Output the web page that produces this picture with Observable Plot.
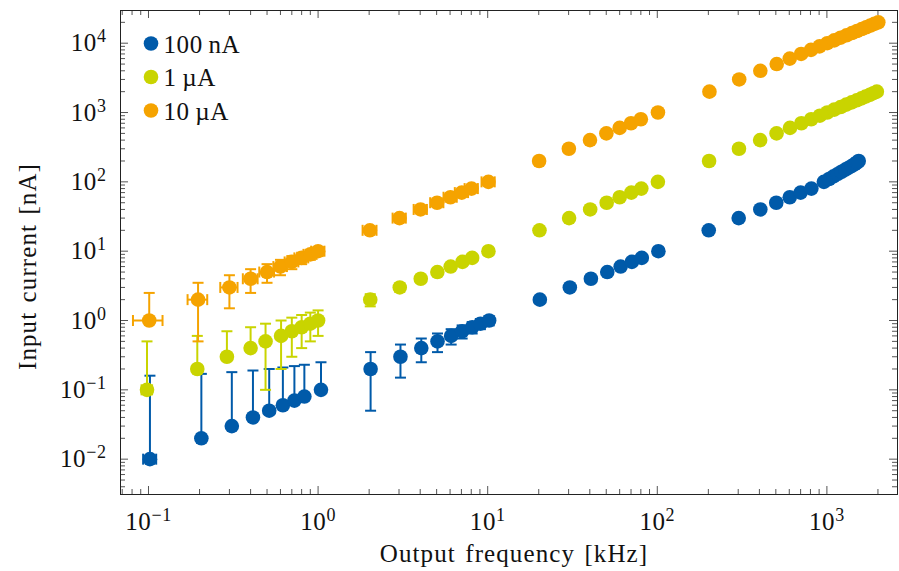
<!DOCTYPE html>
<html>
<head>
<meta charset="utf-8">
<script src="https://cdn.jsdelivr.net/npm/d3@7"></script>
<script src="https://cdn.jsdelivr.net/npm/@observablehq/plot@0.6"></script>
<style>
  html, body { margin: 0; padding: 0; background: #fff; }
  #chart svg { display: block; }
</style>
</head>
<body>
<div id="chart"></div>
<script>
// Output frequency (kHz) versus input current (nA) for three input ranges.
const seriesNames  = ["100\u2009nA", "1\u2009\u00b5A", "10\u2009\u00b5A"];
const seriesColors = ["#005AA9", "#C9D400", "#F5A300"];

// 100 nA range
const blueCurrent = [0.01, 0.02, 0.03, 0.04, 0.05, 0.06, 0.07, 0.08, 0.1,
  0.2, 0.3, 0.4, 0.5, 0.6, 0.7, 0.8, 0.9, 1,
  2, 3, 4, 5, 6, 7, 8, 10,
  20, 30, 40, 50, 60, 70, 80, 100,
  110, 120, 130, 140, 150, 160, 170, 180, 190, 200];
const blueFreq = [0.102, 0.205, 0.31, 0.413, 0.515, 0.62, 0.725, 0.83, 1.04,
  2.04, 3.06, 4.06, 5.06, 6.09, 7.07, 8.1, 9.06, 10.2,
  20.3, 30.5, 40.6, 50.7, 60.8, 70.8, 81, 101.5,
  201, 302, 405, 503, 604, 700, 810, 960,
  1030, 1095, 1160, 1220, 1285, 1345, 1405, 1460, 1505, 1540];
const blueCurrentErr = 0.15;
const blueFreqErr = [0.009, 0.011, 0.011, 0.011, 0.011, 0.011, 0.011, 0.011, 0.011];

// 1 µA range
const greenCurrent = [0.1, 0.2, 0.3, 0.4, 0.5, 0.6, 0.7, 0.8, 0.9, 1,
  2, 3, 4, 5, 6, 7, 8, 10,
  20, 30, 40, 50, 60, 70, 80, 100,
  200, 300, 400, 500, 600, 700, 800, 900,
  1000, 1100, 1200, 1300, 1400, 1500, 1600, 1700, 1800, 1900, 2000];
const greenFreq = [0.098, 0.194, 0.29, 0.4, 0.49, 0.605, 0.7, 0.8, 0.9, 1.0,
  2.03, 3.03, 4.03, 5.05, 6.05, 7.1, 8.1, 10.1,
  20.2, 30.2, 40.2, 50.3, 60, 70.3, 80.5, 100.8,
  202, 303, 404, 505, 606, 707, 808, 909,
  1005, 1105, 1205, 1300, 1400, 1500, 1600, 1690, 1790, 1880, 1970];
const greenCurrentErr = 0.4;
const greenFreqErr = [0.007];

// 10 µA range
const orangeCurrent = [1, 2, 3, 4, 5, 6, 7, 8, 9, 10,
  20, 30, 40, 50, 60, 70, 80, 100,
  200, 300, 400, 500, 600, 700, 800, 1000,
  2000, 3000, 4000, 5000, 6000, 7000, 8000, 9000,
  10000, 11000, 12000, 13000, 14000, 15000, 16000, 17000, 18000, 19000, 20000];
const orangeFreq = [0.101, 0.196, 0.3, 0.4, 0.5, 0.6, 0.7, 0.8, 0.9, 1.0,
  2.02, 3.02, 4.02, 5.03, 6.03, 7.03, 8.03, 10.1,
  20.1, 30.1, 40.1, 50.1, 60, 70, 80, 100.9,
  203, 304, 405, 506, 604, 705, 806, 905,
  1005, 1105, 1205, 1305, 1405, 1505, 1605, 1705, 1805, 1905, 2010];
const orangeCurrentErr = 1.5;
const orangeFreqErr = [0.02, 0.026, 0.035, 0.04, 0.05, 0.055, 0.065, 0.075, 0.08, 0.09,
  0.19, 0.27, 0.36, 0.45, 0.54, 0.63, 0.72, 0.9];

// Axis ticks
const xMajor = [0.1, 1, 10, 100, 1000];
const xMinor = [0.07, 0.08, 0.09, 0.2, 0.3, 0.4, 0.5, 0.6, 0.7, 0.8, 0.9,
  2, 3, 4, 5, 6, 7, 8, 9, 20, 30, 40, 50, 60, 70, 80, 90,
  200, 300, 400, 500, 600, 700, 800, 900, 2000];
const xTickLabels = ["10^\u22121", "10^0", "10^1", "10^2", "10^3"];
const yMajor = [0.01, 0.1, 1, 10, 100, 1000, 10000];
const yMinor = [0.004, 0.005, 0.006, 0.007, 0.008, 0.009,
  0.02, 0.03, 0.04, 0.05, 0.06, 0.07, 0.08, 0.09,
  0.2, 0.3, 0.4, 0.5, 0.6, 0.7, 0.8, 0.9,
  2, 3, 4, 5, 6, 7, 8, 9, 20, 30, 40, 50, 60, 70, 80, 90,
  200, 300, 400, 500, 600, 700, 800, 900,
  2000, 3000, 4000, 5000, 6000, 7000, 8000, 9000, 20000];
const yTickLabels = ["10^\u22122", "10^\u22121", "10^0", "10^1", "10^2", "10^3", "10^4"];

const W = 899, H = 571;
const mL = 120, mR = 2, mT = 10, mB = 77;
const frameW = W - mL - mR, frameH = H - mT - mB;
const font = "'Liberation Serif', 'Times New Roman', serif";
const fs = 25;
const majorLen = 8, minorLen = 5;
const tickColor = "#555";
const ink = "#111";

function rowsOf(current, freq, cErr, fErr) {
  return current.map((c, i) => {
    const fe = fErr[i] || 0;
    return {x: freq[i], y: c, ylo: c - cErr, yhi: c + cErr, xe: fe, xlo: freq[i] - fe, xhi: freq[i] + fe};
  });
}

const series = [
  rowsOf(blueCurrent, blueFreq, blueCurrentErr, blueFreqErr),
  rowsOf(greenCurrent, greenFreq, greenCurrentErr, greenFreqErr),
  rowsOf(orangeCurrent, orangeFreq, orangeCurrentErr, orangeFreqErr)
];

// short bar symbols for the error-bar caps
const hbar = {draw(ctx, size) { const r = Math.sqrt(size / Math.PI); ctx.moveTo(-r, 0); ctx.lineTo(r, 0); }};
const vbar = {draw(ctx, size) { const r = Math.sqrt(size / Math.PI); ctx.moveTo(0, -r); ctx.lineTo(0, r); }};
const capR = 5.5, dotR = 7.3, barW = 2;

const marks = [];
series.forEach((rows, k) => {
  const color = seriesColors[k];
  // vertical error bars; the lower half is dropped where it would fall below zero
  marks.push(Plot.link(rows, {x1: "x", x2: "x", y1: d => d.ylo > 0 ? d.ylo : d.y, y2: "yhi", stroke: color, strokeWidth: barW}));
  marks.push(Plot.dot(rows, {x: "x", y: "yhi", symbol: hbar, r: capR, stroke: color, strokeWidth: barW, fill: "none"}));
  marks.push(Plot.dot(rows.filter(d => d.ylo > 0), {x: "x", y: "ylo", symbol: hbar, r: capR, stroke: color, strokeWidth: barW, fill: "none"}));
  // horizontal error bars
  const hx = rows.filter(d => d.xe > 0);
  marks.push(Plot.link(hx, {x1: "xlo", x2: "xhi", y1: "y", y2: "y", stroke: color, strokeWidth: barW}));
  marks.push(Plot.dot(hx, {x: "xlo", y: "y", symbol: vbar, r: capR, stroke: color, strokeWidth: barW, fill: "none"}));
  marks.push(Plot.dot(hx, {x: "xhi", y: "y", symbol: vbar, r: capR, stroke: color, strokeWidth: barW, fill: "none"}));
  // markers
  marks.push(Plot.dot(rows, {x: "x", y: "y", r: dotR, fill: color}));
});

// inward ticks on all four sides
const tickSide = (vals, len) => [
  Plot.tickX(vals, {x: d => d, insetTop: frameH - len, stroke: tickColor, strokeWidth: 1}),
  Plot.tickX(vals, {x: d => d, insetBottom: frameH - len, stroke: tickColor, strokeWidth: 1})
];
const tickSideY = (vals, len) => [
  Plot.tickY(vals, {y: d => d, insetRight: frameW - len, stroke: tickColor, strokeWidth: 1}),
  Plot.tickY(vals, {y: d => d, insetLeft: frameW - len, stroke: tickColor, strokeWidth: 1})
];

const textStyle = {fontSize: fs, fontFamily: font, fill: ink, lineAnchor: "middle"};

// legend in the upper-left corner of the frame
const legend = [];
seriesNames.forEach((name, k) => {
  const dy = 33 + k * 33.5;
  legend.push(Plot.dot([name], {frameAnchor: "top-left", dx: 30.5, dy, r: dotR, fill: seriesColors[k]}));
  legend.push(Plot.text([name], {frameAnchor: "top-left", dx: 43, dy: dy + 1, text: d => d, textAnchor: "start", ...textStyle}));
});

const svg = Plot.plot({
  width: W, height: H,
  marginLeft: mL, marginRight: mR, marginTop: mT, marginBottom: mB,
  style: {background: "#fff", fontFamily: font, letterSpacing: "0.6px"},
  x: {type: "log", domain: [0.06839, 2608], axis: null},
  y: {type: "log", domain: [0.003093, 29627], axis: null},
  marks: [
    ...tickSide(xMinor, minorLen), ...tickSide(xMajor, majorLen),
    ...tickSideY(yMinor, minorLen), ...tickSideY(yMajor, majorLen),
    ...marks,
    ...legend,
    Plot.text(xMajor, {x: d => d, frameAnchor: "bottom", dy: 27, text: (d, i) => xTickLabels[i], ...textStyle}),
    Plot.text(yMajor, {y: d => d, frameAnchor: "left", dx: -14, textAnchor: "end", text: (d, i) => yTickLabels[i], ...textStyle}),
    Plot.text(["Output frequency [kHz]"], {frameAnchor: "bottom", dx: 5, dy: 59, textAnchor: "middle", text: d => d, ...textStyle}),
    Plot.text(["Input current [nA]"], {frameAnchor: "left", dx: -93, dy: 14, rotate: -90, textAnchor: "middle", text: d => d, ...textStyle}),
    Plot.frame({stroke: "#222", strokeWidth: 1})
  ]
});

// widen the axis titles a little
d3.select(svg).selectAll("text")
  .filter(function () { return /frequency|current/.test(this.textContent); })
  .attr("letter-spacing", "1.1px").attr("word-spacing", "2px");

// typeset "10^n" tick labels with a raised exponent
d3.select(svg).selectAll("text")
  .filter(function () { return this.textContent.includes("^"); })
  .each(function () {
    const t = d3.select(this);
    const [base, exp] = t.text().split("^");
    t.text(null);
    t.append("tspan").text(base);
    t.append("tspan").attr("dy", "-0.5em").attr("font-size", "0.72em").text(exp);
  });

document.getElementById("chart").appendChild(svg);
</script>
</body>
</html>
